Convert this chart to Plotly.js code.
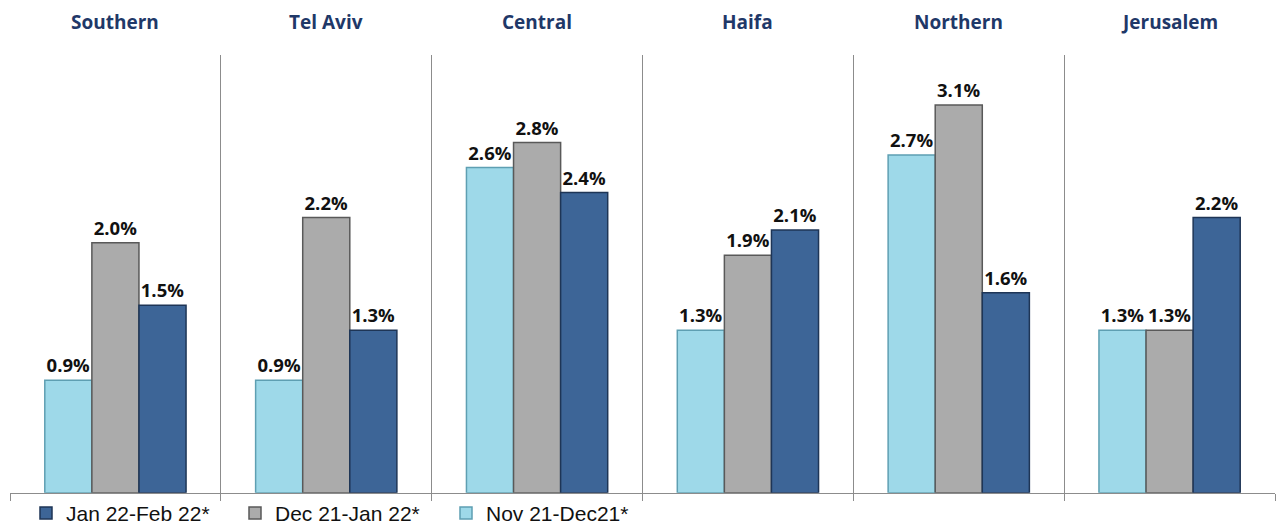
<!DOCTYPE html>
<html>
<head>
<meta charset="utf-8">
<script src="https://cdn.plot.ly/plotly-3.0.1.min.js"></script>
<style>html,body{margin:0;padding:0;background:#fff;}#chart{width:1280px;height:527px;}</style>
</head>
<body>
<div id="chart"></div>
<script>
const regions = ["Southern", "Tel Aviv", "Central", "Haifa", "Northern", "Jerusalem"];
const novDec = [0.9, 0.9, 2.6, 1.3, 2.7, 1.3];
const decJan = [2.0, 2.2, 2.8, 1.9, 3.1, 1.3];
const janFeb = [1.5, 1.3, 2.4, 2.1, 1.6, 2.2];
const seriesNames = ["Nov 21-Dec21*", "Dec 21-Jan 22*", "Jan 22-Feb 22*"];

const labelFont = {family: "'Open Sans', Lato, sans-serif", size: 18.5, color: "#111"};
function mk(name, vals, color, edge, legendId) {
  return {
    type: "bar", name: name, x: regions, y: vals, legend: legendId,
    marker: {color: color, line: {color: edge, width: 1.5}},
    texttemplate: "<b>%{y:.1f}%</b>", textposition: "outside",
    textfont: labelFont, cliponaxis: false, hoverinfo: "skip"
  };
}
const data = [
  mk(seriesNames[0], novDec, "#9ED9E9", "#5E9FB2", "legend3"),
  mk(seriesNames[1], decJan, "#ABABAB", "#595959", "legend2"),
  mk(seriesNames[2], janFeb, "#3D6597", "#1E3556", "legend")
];
const legFont = {family: "Liberation Sans, Arial, sans-serif", size: 21, color: "#111"};
function leg(x) {
  return {
    orientation: "h", xref: "container", yref: "container",
    x: x, xanchor: "left", y: 0.026, yanchor: "middle",
    font: legFont, itemwidth: 30, bgcolor: "rgba(0,0,0,0)"
  };
}
const layout = {
  width: 1280, height: 527,
  margin: {l: 10, r: 5, t: 55, b: 33},
  paper_bgcolor: "#fff", plot_bgcolor: "#fff",
  barmode: "group", bargap: 0.33, bargroupgap: 0,
  xaxis: {
    type: "category", tickson: "boundaries", showgrid: true,
    gridcolor: "#8C8C8C", gridwidth: 1.3,
    ticks: "outside", ticklen: 7, tickcolor: "#8C8C8C",
    showticklabels: false, showline: true, linecolor: "#8C8C8C", linewidth: 1.3,
    mirror: false, zeroline: false
  },
  yaxis: {range: [0, 3.5], visible: false, showgrid: false, zeroline: false},
  showlegend: true,
  legend: leg(26 / 1280),
  legend2: leg(235 / 1280),
  legend3: leg(446 / 1280),
  annotations: regions.map(r => ({
    x: r, xref: "x", y: 1, yref: "paper", yshift: 33,
    yanchor: "middle", showarrow: false,
    text: "<b>" + r + "</b>",
    font: {family: "'Open Sans', Lato, sans-serif", size: 19, color: "#1F3868"}
  }))
};
Plotly.newPlot("chart", data, layout, {displayModeBar: false, staticPlot: true});
</script>
</body>
</html>
